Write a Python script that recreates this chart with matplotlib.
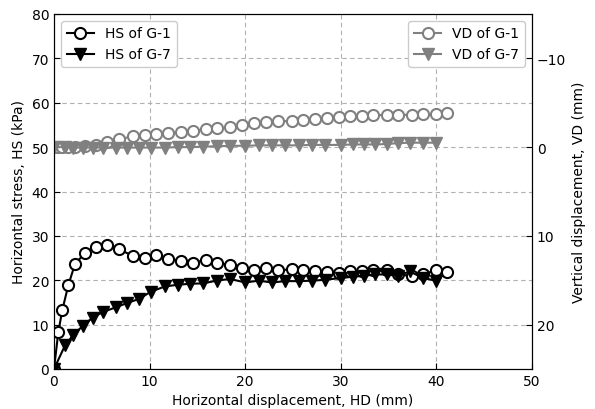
import matplotlib
matplotlib.use("Agg")
import matplotlib.pyplot as plt

# Horizontal stress, G-1 (open circles)
hd_g1 = [0, 0.45, 0.87, 1.50, 2.2, 3.24, 4.39, 5.51, 6.80, 8.23, 9.52, 10.64, 11.96,
         13.28, 14.57, 15.87, 17.08, 18.41, 19.63, 20.92, 22.18, 23.46, 24.86, 26.08,
         27.30, 28.59, 29.84, 30.96, 32.19, 33.40, 34.80, 36.01, 37.42, 38.63, 39.96, 41.14]
hs_g1 = [0, 8.3, 13.3, 18.9, 23.7, 26.1, 27.6, 27.9, 27.0, 25.5, 25.0, 25.8, 24.8,
         24.4, 23.9, 24.6, 23.8, 23.5, 22.7, 22.4, 22.8, 22.2, 22.5, 22.2,
         22.0, 21.8, 21.6, 22.0, 22.0, 22.2, 22.2, 21.3, 21.0, 21.4, 22.2, 21.8]
# Vertical displacement, G-1 (negative = upward)
vd_g1 = [0, 0.03, 0.03, 0.03, 0.0, -0.15, -0.23, -0.53, -0.9, -1.2, -1.39, -1.46, -1.58,
         -1.72, -1.84, -2.03, -2.1, -2.22, -2.48, -2.7, -2.78, -2.9, -2.96, -3.08,
         -3.15, -3.23, -3.35, -3.46, -3.53, -3.6, -3.64, -3.64, -3.64, -3.72, -3.72, -3.83]

# Horizontal stress, G-7 (filled triangles)
hd_g7 = [0, 1.15, 2.02, 3.06, 4.05, 5.16, 6.49, 7.67, 8.92, 10.1, 11.6, 13.0, 14.2,
         15.6, 17.0, 18.4, 20.0, 21.4, 22.8, 24.2, 25.6, 27.0, 28.3, 30.0, 31.3,
         32.4, 33.6, 34.8, 36.0, 37.2, 38.6, 40.0]
hs_g7 = [0, 5.3, 7.7, 9.8, 11.6, 12.9, 13.9, 14.9, 15.8, 17.4, 18.6, 19.0, 19.2,
         19.3, 19.9, 20.3, 19.5, 19.9, 19.5, 19.8, 19.8, 19.9, 20.1, 20.5, 20.8,
         21.0, 21.3, 21.3, 21.0, 22.0, 20.5, 19.9]
# Vertical displacement, G-7
vd_g7 = [0, 0.0, 0.05, 0.05, 0.05, 0.05, 0.05, 0.05, 0.05, 0.05, 0.05, 0.0, 0.0,
         -0.05, -0.1, -0.15, -0.15, -0.2, -0.2, -0.2, -0.2, -0.25, -0.25, -0.25, -0.3,
         -0.3, -0.3, -0.35, -0.45, -0.5, -0.5, -0.5]

x_ticks = [0, 10, 20, 30, 40, 50]
hs_ticks = [0, 10, 20, 30, 40, 50, 60, 70, 80]
vd_ticks = [-10, 0, 10, 20]

GREY = "#808080"

fig = plt.figure(figsize=(5.95, 4.10), dpi=100)
ax = fig.add_axes([54 / 595, 40 / 410, 478 / 595, 355 / 410])
ax2 = ax.twinx()

ms = 8
ax.plot(hd_g1, hs_g1, color="black", lw=1.5, marker="o", ms=ms, mfc="white",
        mec="black", mew=1.5, label="HS of G-1", zorder=3)
ax.plot(hd_g7, hs_g7, color="black", lw=1.5, marker="v", ms=ms, mfc="black",
        mec="black", label="HS of G-7", zorder=3)

ax2.plot(hd_g1, vd_g1, color=GREY, lw=1.5, marker="o", ms=ms, mfc="white",
         mec=GREY, mew=1.5, label="VD of G-1")
ax2.plot(hd_g7, vd_g7, color=GREY, lw=1.5, marker="v", ms=ms, mfc=GREY,
         mec=GREY, label="VD of G-7")

ax.set_xlim(0, 50)
ax.set_ylim(0, 80)
ax2.set_ylim(25, -15)
ax.set_xticks(x_ticks)
ax.set_yticks(hs_ticks)
ax2.set_yticks(vd_ticks)

ax.grid(True, color="#b0b0b0", ls=(0, (4, 3)), lw=0.8)
ax.set_axisbelow(True)

ax.tick_params(direction="in", labelsize=10, length=4)
ax2.tick_params(direction="in", labelsize=10, length=4)

ax.set_xlabel("Horizontal displacement, HD (mm)", fontsize=10)
ax.set_ylabel("Horizontal stress, HS (kPa)", fontsize=10)
ax2.set_ylabel("Vertical displacement, VD (mm)", fontsize=10)

ax.legend(loc="upper left", fontsize=10, framealpha=1)
ax2.legend(loc="upper right", fontsize=10, framealpha=1)

fig.savefig("out.png", dpi=100)
